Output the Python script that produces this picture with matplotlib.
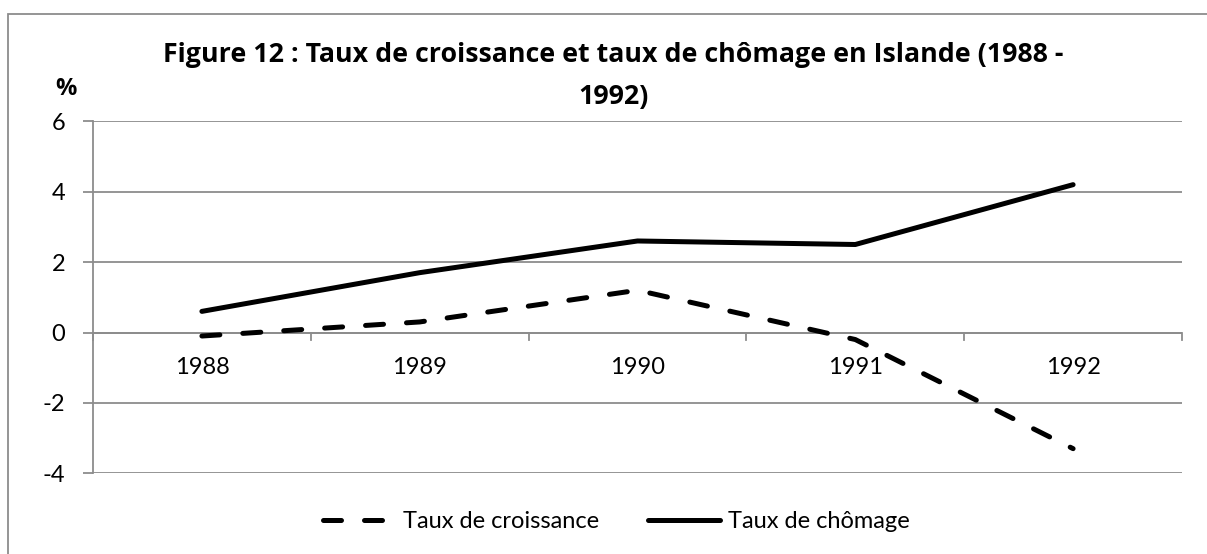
import matplotlib
matplotlib.use("Agg")
import matplotlib.pyplot as plt
from matplotlib.patches import Rectangle

years = ["1988", "1989", "1990", "1991", "1992"]
croissance = [-0.1, 0.3, 1.2, -0.2, -3.3]
chomage = [0.6, 1.7, 2.6, 2.5, 4.2]
yticks = [-4, -2, 0, 2, 4, 6]

plt.rcParams['font.family'] = ['Lato', 'DejaVu Sans']

W, H = 1207, 554
fig = plt.figure(figsize=(W/100, H/100), dpi=100)
fig.patch.set_facecolor('white')

# outer frame (right / bottom edges fall outside the picture)
fig.add_artist(Rectangle((8/W, 1 - 570/H), (1230-8)/W, (570-14)/H,
                         transform=fig.transFigure, fill=False,
                         edgecolor='#8c8c8c', linewidth=1.3, clip_on=False))

left, right, top, bottom = 93, 1182, 121.3, 473.3
ax = fig.add_axes([left/W, 1 - bottom/H, (right-left)/W, (bottom-top)/H])

x = list(range(len(years)))
grid_c = '#8c8c8c'
ax.set_xlim(-0.5, len(years) - 0.5)
ax.set_ylim(-4, 6)
ax.set_yticks(yticks)
ax.set_yticklabels([str(v) for v in yticks], fontsize=17)
ax.yaxis.grid(True, color=grid_c, linewidth=1.3)
ax.set_axisbelow(True)
for s in ['top', 'right', 'bottom']:
    ax.spines[s].set_visible(False)
ax.spines['left'].set_color(grid_c)
ax.spines['left'].set_linewidth(1.3)
ax.tick_params(axis='y', length=7, color=grid_c, width=1.3, pad=13)
ax.set_xticks([])

# category axis at y=0
ax.axhline(0, color=grid_c, linewidth=1.3, zorder=1)
for k in range(len(years) + 1):
    ax.plot([k - 0.5, k - 0.5], [0, -0.2], color=grid_c, linewidth=1.3,
            clip_on=False, zorder=1)
for xi, lab in zip(x, years):
    ax.text(xi, -0.99, lab, ha='center', va='center', fontsize=17, color='black')

l1, = ax.plot(x, croissance, color='black', linewidth=3.6,
              dashes=(3.6, 4.6), dash_capstyle='round', solid_capstyle='round',
              label='Taux de croissance', zorder=3)
l2, = ax.plot(x, chomage, color='black', linewidth=3.6,
              solid_capstyle='round', label='Taux de chômage', zorder=3)

# title, scaled so the first line spans ~900 px like the reference
title_font = ['Open Sans', 'DejaVu Sans']
t1 = fig.text(613/W, 1 - 55/H,
              "Figure 12 : Taux de croissance et taux de chômage en Islande (1988 -",
              ha='center', va='center', fontsize=20, fontweight='bold',
              family=title_font)
renderer = fig.canvas.get_renderer()
wpx = t1.get_window_extent(renderer).width
fs = 20 * 900 / wpx
t1.set_fontsize(fs)
fig.text(614/W, 1 - 97/H, "1992)", ha='center', va='center',
         fontsize=fs, fontweight='bold', family=title_font)
fig.text(66/W, 1 - 89/H, "%", ha='center', va='center', fontsize=17,
         fontweight='bold', family=title_font)

ly = 1 - 522/H
leg1 = fig.legend(handles=[l1], loc='center left', bbox_to_anchor=(323/W, ly),
                  frameon=False, fontsize=17, handlelength=2.75,
                  handletextpad=0.62, borderpad=0, borderaxespad=0)
leg2 = fig.legend(handles=[l2], loc='center left', bbox_to_anchor=(648/W, ly),
                  frameon=False, fontsize=17, handlelength=3.05,
                  handletextpad=0.33, borderpad=0, borderaxespad=0)

fig.savefig('out.png', dpi=100, facecolor='white')
